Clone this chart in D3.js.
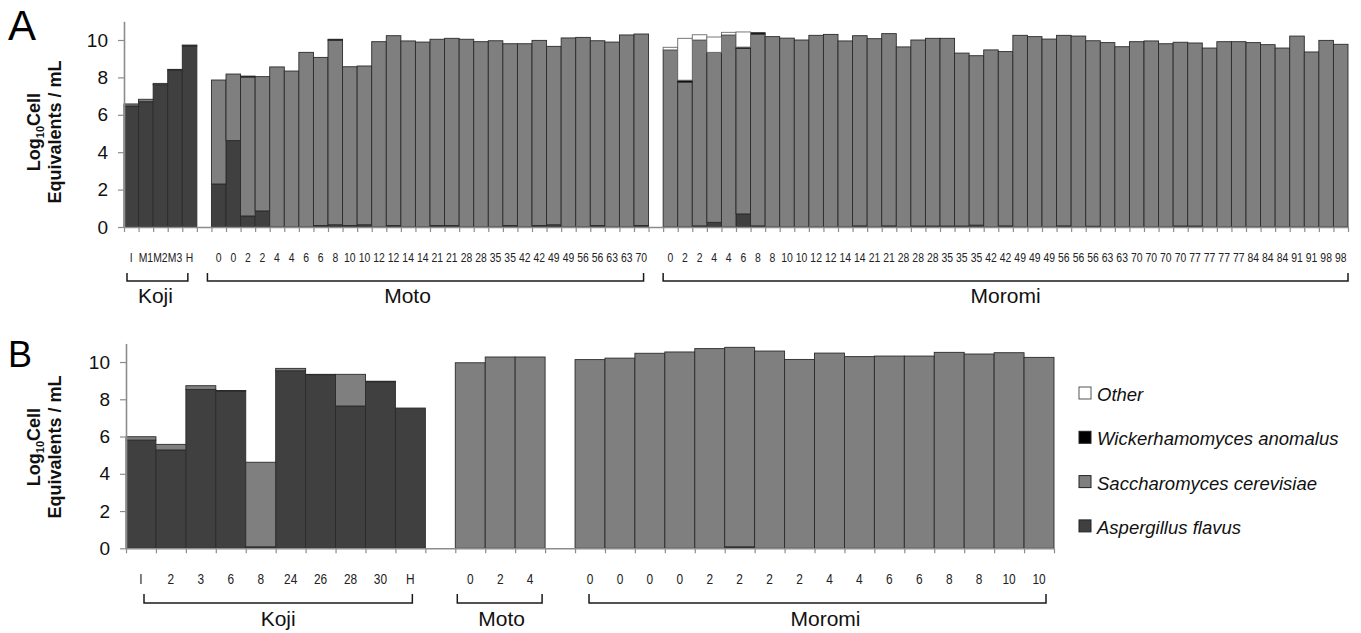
<!DOCTYPE html>
<html>
<head>
<meta charset="utf-8">
<script src="https://cdn.jsdelivr.net/npm/d3@7"></script>
<style>
  body { margin: 0; background: #fff; }
  svg { display: block; font-family: "Liberation Sans", Arial, sans-serif; }
</style>
</head>
<body>
<svg id="chart" width="1361" height="633"></svg>
<script>
// species, bottom to top of each stack
const SPECIES = ['Aspergillus flavus', 'Saccharomyces cerevisiae', 'Wickerhamomyces anomalus', 'Other'];
const LEGEND_ORDER = ['Other', 'Wickerhamomyces anomalus', 'Saccharomyces cerevisiae', 'Aspergillus flavus'];
const GROUPS = ['Koji', 'Moto', 'Moromi'];

// ---- panel A ----
const A_KOJI_LABELS = ['I', 'M1', 'M2', 'M3', 'H'];
const A_MOTO_LABELS = ['0', '0', '2', '2', '4', '4', '6', '6', '8', '10', '10', '12', '12', '14', '14',
  '21', '21', '28', '28', '35', '35', '42', '42', '49', '49', '56', '56', '63', '63', '70'];
const A_MOROMI_LABELS = ['0', '2', '2', '4', '4', '6', '8', '8', '10', '10', '12', '12', '14', '14', '21',
  '21', '28', '28', '28', '35', '35', '35', '42', '42', '49', '49', '49', '56', '56', '56', '63', '63',
  '70', '70', '70', '70', '77', '77', '77', '77', '84', '84', '84', '91', '91', '98', '98'];

// values follow Koji, Moto, Moromi order
const A_FLAVUS = [6.47, 6.70, 7.61, 8.40, 9.68,
  2.30, 4.62, 0.59, 0.86, 0, 0, 0, 0.08, 0.12, 0.08, 0.12, 0, 0.08, 0, 0, 0.08, 0.08, 0, 0, 0, 0.08, 0, 0.08, 0.12, 0, 0, 0.08, 0, 0, 0.08,
  0, 0, 0.06, 0.25, 0, 0.7, 0.06, 0, 0, 0, 0, 0, 0, 0.06, 0, 0.06, 0, 0.05, 0.05, 0.05, 0.05, 0.1, 0, 0.06,
  0, 0, 0, 0.06, 0, 0.04, 0, 0, 0, 0, 0, 0.05, 0.05, 0, 0, 0, 0, 0, 0, 0, 0, 0, 0];
const A_SCER = [0.11, 0.13, 0.07, 0.03, 0.05,
  5.56, 3.56, 7.43, 7.18, 8.56, 8.34, 9.34, 8.99, 9.87, 8.49, 8.49, 9.91, 10.15, 9.95, 9.89, 9.96, 10.01, 10.04, 9.91, 9.96,
  9.72, 9.80, 9.90, 9.54, 10.11, 10.14, 9.88, 9.89, 10.27, 10.24,
  9.47, 7.75, 9.94, 9.09, 10.27, 8.85, 10.26, 10.18, 10.10, 10.00, 10.25, 10.30, 9.95, 10.17, 10.07, 10.28, 9.63, 9.95,
  10.04, 10.04, 9.25, 9.06, 9.47, 9.32, 10.25, 10.18, 10.05, 10.19, 10.21, 9.92, 9.86, 9.64, 9.91, 9.95, 9.80, 9.83,
  9.79, 9.57, 9.91, 9.91, 9.86, 9.75, 9.57, 10.21, 9.36, 9.98, 9.77];
const A_WANOM = [0, 0, 0, 0, 0,
  0, 0, 0.05, 0, 0, 0, 0, 0, 0.05, 0, 0, 0, 0, 0, 0, 0, 0, 0, 0, 0, 0, 0, 0, 0, 0, 0, 0, 0, 0, 0,
  0, 0.1, 0, 0, 0, 0.07, 0.07, 0, 0, 0, 0, 0, 0, 0, 0, 0, 0, 0, 0, 0, 0, 0, 0, 0, 0, 0, 0, 0, 0, 0, 0, 0, 0, 0,
  0, 0, 0, 0, 0, 0, 0, 0, 0, 0, 0, 0, 0];
const A_OTHER = [0, 0, 0, 0, 0,
  0, 0, 0, 0, 0, 0, 0, 0, 0, 0, 0, 0, 0, 0, 0, 0, 0, 0, 0, 0, 0, 0, 0, 0, 0, 0, 0, 0, 0, 0,
  0.14, 2.24, 0.28, 0.82, 0.14, 0.81, 0, 0, 0, 0, 0, 0, 0, 0, 0, 0, 0, 0, 0, 0, 0, 0, 0, 0, 0, 0, 0, 0, 0, 0,
  0, 0, 0, 0, 0, 0, 0, 0, 0, 0, 0, 0, 0, 0, 0, 0, 0];

// ---- panel B ----
const B_KOJI_LABELS = ['I', '2', '3', '6', '8', '24', '26', '28', '30', 'H'];
const B_MOTO_LABELS = ['0', '2', '4'];
const B_MOROMI_LABELS = ['0', '0', '0', '0', '2', '2', '2', '2', '4', '4', '6', '6', '8', '8', '10', '10'];

const B_FLAVUS = [5.81, 5.28, 8.53, 8.44, 0.08, 9.53, 9.32, 7.64, 8.94, 7.53,
  0, 0, 0,
  0, 0, 0, 0, 0, 0.08, 0, 0, 0, 0, 0, 0, 0, 0, 0, 0];
const B_SCER = [0.18, 0.30, 0.20, 0, 4.54, 0.13, 0.02, 1.70, 0, 0,
  9.96, 10.27, 10.27,
  10.13, 10.21, 10.47, 10.54, 10.72, 10.71, 10.59, 10.14, 10.48, 10.29, 10.32, 10.32, 10.52, 10.43, 10.50, 10.25];
const B_WANOM = [0, 0, 0, 0.03, 0, 0, 0, 0, 0.03, 0,
  0, 0, 0,
  0, 0, 0, 0, 0, 0, 0, 0, 0, 0, 0, 0, 0, 0, 0, 0];
const B_OTHER = [0, 0, 0, 0, 0, 0, 0, 0, 0, 0,
  0, 0, 0,
  0, 0, 0, 0, 0, 0, 0, 0, 0, 0, 0, 0, 0, 0, 0, 0];

const Y_TICKS = [0, 2, 4, 6, 8, 10];

const COLOR = {
  'Aspergillus flavus': '#404040',
  'Saccharomyces cerevisiae': '#7f7f7f',
  'Wickerhamomyces anomalus': '#000000',
  'Other': '#ffffff'
};
const AXIS_COLOR = '#8c8c8c';

const panels = [
  {
    letter: 'A', letterSize: 42, letterY: 40,
    x0: 124, x1: 1348, y0: 227, yTop: 21.3,
    labels: [A_KOJI_LABELS, A_MOTO_LABELS, A_MOROMI_LABELS],
    series: [A_FLAVUS, A_SCER, A_WANOM, A_OTHER],
    tickFont: 13, tickScale: 0.8, tickY: 262,
    bracketY: 281, bracketH: 8, groupY: 303,
    bracketInset: [[3, -9], [-4, -5], [0, 0]],
    groupDx: [-2, -18, 0],
    axisLabelY: 132
  },
  {
    letter: 'B', letterSize: 36, letterY: 367,
    x0: 126, x1: 1054, y0: 548.3, yTop: 343.4,
    labels: [B_KOJI_LABELS, B_MOTO_LABELS, B_MOROMI_LABELS],
    series: [B_FLAVUS, B_SCER, B_WANOM, B_OTHER],
    tickFont: 14, tickScale: 0.85, tickY: 584,
    bracketY: 603, bracketH: 9, groupY: 626,
    bracketInset: [[18, -13], [2, -3], [14, -8]],
    groupDx: [0, 2, 8],
    axisLabelY: 447
  }
];

const svg = d3.select('#chart');

panels.forEach(p => {
  const g = svg.append('g');

  // build rows + slot keys (a blank slot between groups)
  const rows = [];
  const slots = [];
  let k = 0;
  p.labels.forEach((labels, gi) => {
    if (gi > 0) slots.push('gap' + gi);
    labels.forEach((lab, i) => {
      const key = gi + '-' + i;
      const row = { key, label: lab, group: gi };
      SPECIES.forEach((s, si) => { row[s] = p.series[si][k]; });
      rows.push(row);
      slots.push(key);
      k++;
    });
  });

  const x = d3.scaleBand().domain(slots).range([p.x0, p.x1]).padding(0);
  const xEdge = d3.scaleLinear().domain([0, slots.length]).range([p.x0, p.x1]);
  const y = d3.scaleLinear().domain([0, 11]).range([p.y0, p.yTop]);

  const stacked = d3.stack().keys(SPECIES)(rows);

  // bars
  const layers = g.selectAll('.layer').data(stacked).enter().append('g')
    .classed('layer', true)
    .attr('fill', d => COLOR[d.key])
    .attr('stroke', d => d.key === 'Other' ? '#6a6a6a' : '#2b2b2b')
    .attr('stroke-width', 0.9);
  layers.selectAll('rect')
    .data(d => d.filter(s => s[1] - s[0] > 0))
    .enter().append('rect')
    .attr('x', d => x(d.data.key))
    .attr('width', x.bandwidth())
    .attr('y', d => y(d[1]))
    .attr('height', d => y(d[0]) - y(d[1]));

  // x axis: ticks at every slot edge
  const xAxis = g.append('g')
    .attr('transform', `translate(0,${p.y0})`)
    .call(d3.axisBottom(xEdge).tickValues(d3.range(slots.length + 1))
      .tickSize(5).tickSizeOuter(0).tickFormat(''));
  xAxis.select('.domain').attr('stroke', AXIS_COLOR).attr('stroke-width', 1.6);
  xAxis.selectAll('.tick line').attr('stroke', AXIS_COLOR).attr('stroke-width', 1.2);

  // y axis
  const yAxis = g.append('g')
    .attr('transform', `translate(${p.x0},0)`)
    .call(d3.axisLeft(y).tickValues(Y_TICKS).tickSize(6).tickSizeOuter(0).tickPadding(10));
  yAxis.select('.domain').attr('stroke', AXIS_COLOR).attr('stroke-width', 1.6);
  yAxis.selectAll('.tick line').attr('stroke', AXIS_COLOR).attr('stroke-width', 1.2);
  yAxis.selectAll('.tick text')
    .attr('font-size', 19)
    .attr('font-family', '"Liberation Sans", Arial, sans-serif')
    .attr('fill', '#111');

  // category labels, squeezed horizontally like the original
  g.selectAll('.catLabel').data(rows).enter().append('text')
    .classed('catLabel', true)
    .attr('transform', d => `translate(${x(d.key) + x.bandwidth() / 2},${p.tickY}) scale(${p.tickScale},1)`)
    .attr('text-anchor', 'middle')
    .attr('font-size', p.tickFont)
    .attr('font-family', '"Liberation Sans Narrow", "Arial Narrow", "Liberation Sans", sans-serif')
    .attr('fill', '#222')
    .text(d => d.label);

  // group brackets
  GROUPS.forEach((name, gi) => {
    const first = x(gi + '-0');
    const last = x(gi + '-' + (p.labels[gi].length - 1)) + x.bandwidth();
    const a = first + p.bracketInset[gi][0];
    const b = last + p.bracketInset[gi][1];
    g.append('path')
      .attr('d', `M${a},${p.bracketY - p.bracketH}V${p.bracketY}H${b}V${p.bracketY - p.bracketH}`)
      .attr('fill', 'none')
      .attr('stroke', '#1a1a1a')
      .attr('stroke-width', 1.5);
    g.append('text')
      .attr('x', (a + b) / 2 + p.groupDx[gi])
      .attr('y', p.groupY)
      .attr('text-anchor', 'middle')
      .attr('font-size', 21)
      .attr('fill', '#111')
      .text(name);
  });

  // panel letter
  g.append('text')
    .attr('x', 8)
    .attr('y', p.letterY)
    .attr('font-size', p.letterSize)
    .attr('fill', '#000')
    .text(p.letter);

  // y axis title
  const yt = g.append('g')
    .attr('transform', `translate(0,${p.axisLabelY}) rotate(-90)`)
    .attr('font-weight', 'bold')
    .attr('font-size', 18)
    .attr('fill', '#111')
    .attr('text-anchor', 'middle');
  const l1 = yt.append('text').attr('x', 0).attr('y', 40);
  l1.append('tspan').text('Log');
  l1.append('tspan').attr('font-size', 11).attr('dy', 4).text('10');
  l1.append('tspan').attr('dy', -4).text('Cell');
  yt.append('text').attr('x', 0).attr('y', 61).text('Equivalents / mL');
});

// legend
const legend = svg.append('g').attr('transform', 'translate(1079,387)');
const items = legend.selectAll('.item').data(LEGEND_ORDER).enter().append('g')
  .classed('item', true)
  .attr('transform', (d, i) => `translate(0,${i * 44.3})`);
items.append('rect')
  .attr('width', 12).attr('height', 12)
  .attr('fill', d => COLOR[d])
  .attr('stroke', d => d === 'Other' ? '#555' : '#222')
  .attr('stroke-width', 1);
items.append('text')
  .attr('x', 18)
  .attr('y', 14)
  .attr('font-size', 18.5)
  .attr('font-style', 'italic')
  .attr('fill', '#111')
  .text(d => d);
</script>
</body>
</html>
